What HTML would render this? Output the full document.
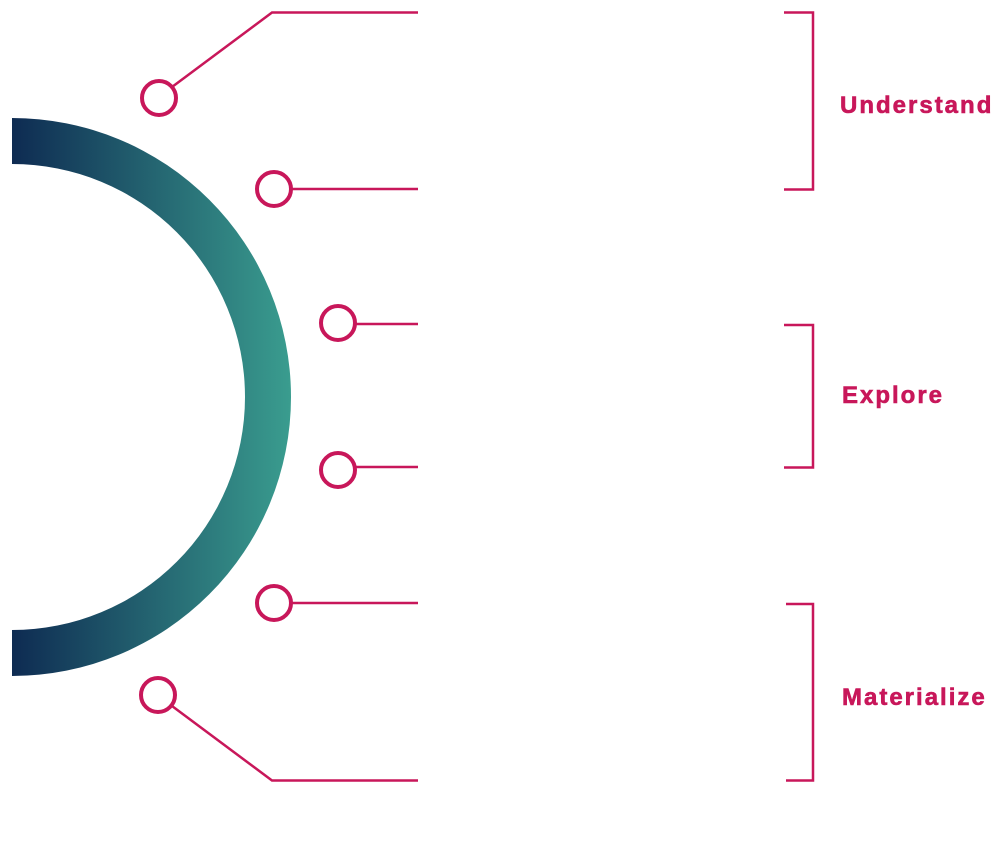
<!DOCTYPE html>
<html><head><style>
html,body{margin:0;padding:0;background:#fff;width:995px;height:858px;overflow:hidden}
text{font-family:"Liberation Sans",sans-serif;font-weight:bold;fill:#c8175a;stroke:#c8175a;stroke-width:0.6;font-size:24px;letter-spacing:2px}
</style></head><body>
<svg width="995" height="858" viewBox="0 0 995 858">
<defs><linearGradient id="g" x1="12" y1="0" x2="292" y2="0" gradientUnits="userSpaceOnUse">
<stop offset="0" stop-color="#0e2b52"/><stop offset="1" stop-color="#3a9d8f"/></linearGradient></defs>
<path d="M12 118 A279 279 0 0 1 12 676 L12 630 A233 233 0 0 0 12 164 Z" fill="url(#g)"/>
<g fill="none" stroke="#c8175a" stroke-width="2.5">
<polyline points="172,87 272,12.5 418,12.5"/>
<line x1="291" y1="189" x2="418" y2="189"/>
<line x1="356" y1="324" x2="418" y2="324"/>
<line x1="356" y1="467" x2="418" y2="467"/>
<line x1="291" y1="603" x2="418" y2="603"/>
<polyline points="172,706 272,780.5 418,780.5"/>
<polyline points="784,12.5 813,12.5 813,189.5 784,189.5"/>
<polyline points="784,325 813,325 813,467.5 784,467.5"/>
<polyline points="786,604 813,604 813,780.5 786,780.5"/>
</g>
<g fill="#fff" stroke="#c8175a" stroke-width="4">
<circle cx="159" cy="98" r="17"/>
<circle cx="274" cy="189" r="17"/>
<circle cx="338" cy="323" r="17"/>
<circle cx="338" cy="470" r="17"/>
<circle cx="274" cy="603" r="17"/>
<circle cx="158" cy="695" r="17"/>
</g>
<text x="840" y="113">Understand</text>
<text x="842" y="403">Explore</text>
<text x="842" y="705">Materialize</text>
</svg>
</body></html>
